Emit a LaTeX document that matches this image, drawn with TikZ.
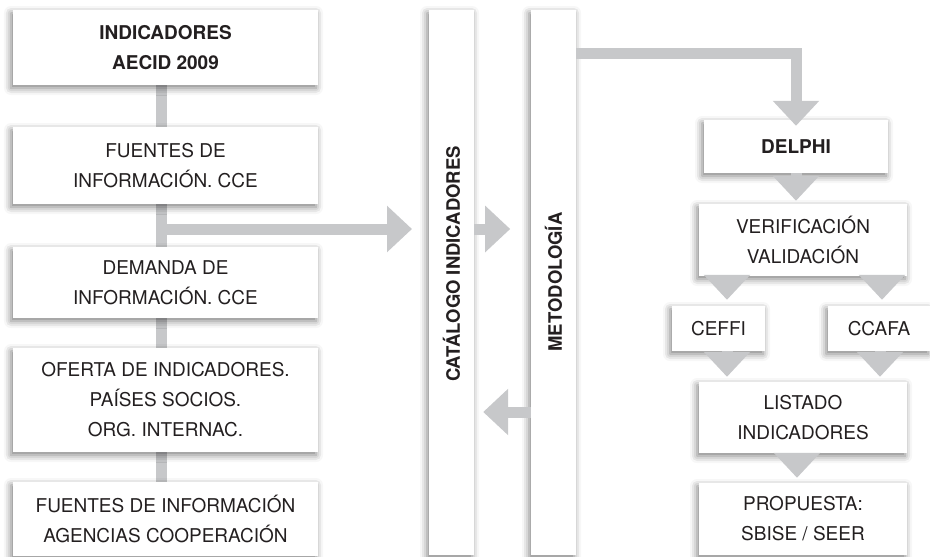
\documentclass[tikz,border=0pt]{standalone}
\usepackage{fontspec}
\setmainfont{TeX Gyre Heros}
\usetikzlibrary{arrows.meta,shadows.blur,backgrounds}
\definecolor{arrowgray}{RGB}{199,200,202}
\definecolor{txtgray}{RGB}{35,31,32}
\tikzset{
  box/.style={fill=white, inner sep=0pt, align=center, text=txtgray,
    font=\fontsize{19}{30}\selectfont,
    blur shadow={shadow xshift=-2pt, shadow yshift=-3pt, shadow blur radius=7pt, shadow opacity=50}},
  boldbox/.style={box, font=\fontsize{19}{30}\selectfont\bfseries},
  vtext/.style={font=\fontsize{18.5}{20}\selectfont\bfseries, text=txtgray, rotate=90},
  conn/.style={draw=arrowgray, line width=11pt},
  flow/.style={conn, -{Triangle[width=45pt,length=25pt]}},
}
\begin{document}
\begin{tikzpicture}[x=1pt,y=-1pt]
\useasboundingbox (0,0) rectangle (930,557);
% left column
\node[boldbox, minimum width=305pt, minimum height=75pt] (b1) at (165.5,47.5) {INDICADORES\\AECID 2009};
\node[box, minimum width=305pt, minimum height=77pt] (b2) at (165.5,165.5) {FUENTES DE\\INFORMACIÓN. CCE};
\node[box, minimum width=305pt, minimum height=71pt] (b3) at (165.5,282.5) {DEMANDA DE\\INFORMACIÓN. CCE};
\node[box, minimum width=305pt, minimum height=104pt] (b4) at (165.5,400) {OFERTA DE INDICADORES.\\PAÍSES SOCIOS.\\ORG. INTERNAC.};
\node[box, minimum width=305pt, minimum height=74pt] (b5) at (165.5,519) {FUENTES DE INFORMACIÓN\\AGENCIAS COOPERACIÓN};
% columns
\node[box, minimum width=45pt, minimum height=545pt] (cat) at (451.5,282.5) {};
\node[vtext] (catt) at (451.5,264) {CATÁLOGO INDICADORES};
\node[box, minimum width=45pt, minimum height=545pt] (met) at (553.5,282.5) {};
\node[vtext] (mett) at (553.5,282) {METODOLOGÍA};
% right column
\node[boldbox, minimum width=184pt, minimum height=53pt] (del) at (796,146.5) {DELPHI};
\node[box, minimum width=208pt, minimum height=72pt] (ver) at (803,240) {VERIFICACIÓN\\VALIDACIÓN};
\node[box, minimum width=93pt, minimum height=45pt] (cef) at (718.5,328.5) {CEFFI};
\node[box, minimum width=102pt, minimum height=45pt] (cca) at (879,328.5) {CCAFA};
\node[box, minimum width=208pt, minimum height=71pt] (lis) at (803,417.5) {LISTADO\\INDICADORES};
\node[box, minimum width=208pt, minimum height=72pt] (pro) at (803,519) {PROPUESTA:\\SBISE / SEER};
% connectors
\coordinate (branch) at (161,229);
\coordinate (cattip) at (412,229);
\coordinate (corner) at (796,53);
\begin{scope}[on background layer]
\draw[conn] (b1.south -| branch) -- (b5.north -| branch);
\end{scope}
\draw[flow] (branch) -- (cattip);
\draw[flow] (cat.east |- branch) -- ([xshift=36pt]cat.east |- branch);
\draw[flow] (met.west |- 0,412) -- ([xshift=9pt]cat.east |- 0,412);
\draw[flow] (met.east |- corner) -- (corner) -- ([yshift=-6pt]del.north);
\draw[flow] (del.south) -- ([xshift=-7pt,yshift=3pt]ver.north);
\draw[flow] (ver.south -| 727,0) -- ([yshift=6pt]cef.north -| 727,0);
\draw[flow] (ver.south -| 882,0) -- ([yshift=6pt]cca.north -| 882,0);
\draw[flow] (cef.south -| 727,0) -- ([yshift=5pt]lis.north -| 727,0);
\draw[flow] (cca.south -| 880,0) -- ([yshift=5pt]lis.north -| 880,0);
\draw[flow] (lis.south -| 797,0) -- ([yshift=5pt]pro.north -| 797,0);
\end{tikzpicture}
\end{document}
